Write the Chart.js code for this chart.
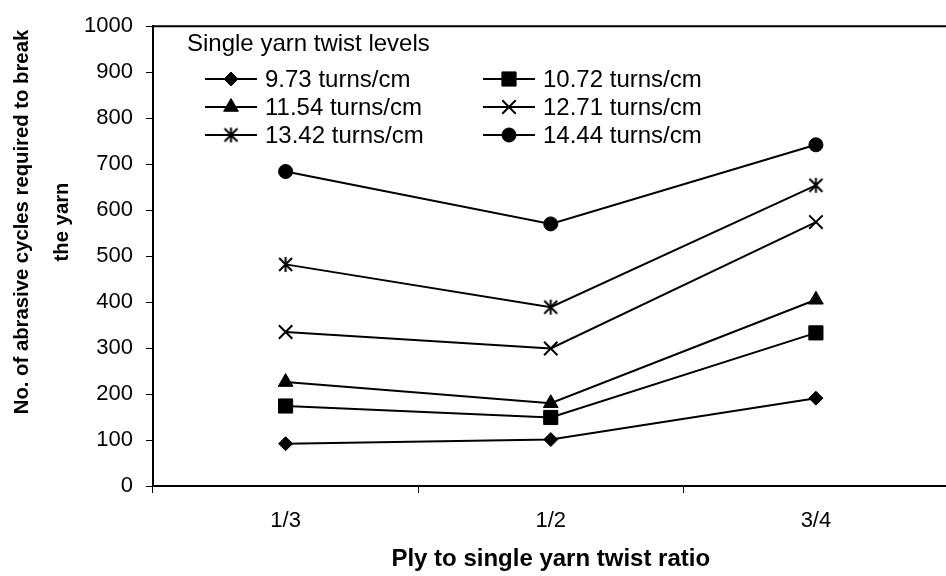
<!DOCTYPE html>
<html>
<head>
<meta charset="utf-8">
<script src="https://cdn.jsdelivr.net/npm/chart.js@4/dist/chart.umd.min.js"></script>
<style>
  html, body { margin: 0; padding: 0; background: #fff; overflow: hidden; }
  #wrap { position: absolute; left: 0; top: 0; width: 960px; height: 576px; }
</style>
</head>
<body>
<div id="wrap"><canvas id="abrasionChart" width="960" height="576"></canvas></div>
<script>
// ply to single yarn twist ratio
const ratios = ['1/3', '1/2', '3/4'];

// abrasive cycles to break the yarn, one array per single yarn twist level
const twist973 = [92, 101, 191];
const twist1072 = [174, 149, 333];
const twist1154 = [226, 180, 405];
const twist1271 = [335, 299, 574];
const twist1342 = [482, 389, 654];
const twist1444 = [684, 570, 742];

const seriesNames = ['9.73 turns/cm', '10.72 turns/cm', '11.54 turns/cm',
  '12.71 turns/cm', '13.42 turns/cm', '14.44 turns/cm'];

const yTicks = [0, 100, 200, 300, 400, 500, 600, 700, 800, 900, 1000];
const yTitle = ['No. of abrasive cycles required to break', 'the yarn'];

const FAMILY = '"Liberation Sans", Arial, sans-serif';

// Excel style asterisk marker (x plus a vertical bar)
function makeAsterisk() {
  const c = document.createElement('canvas');
  c.width = 17; c.height = 17;
  const g = c.getContext('2d');
  g.strokeStyle = '#000';
  g.lineWidth = 2;
  g.beginPath();
  g.moveTo(2, 2); g.lineTo(15, 15);
  g.moveTo(15, 2); g.lineTo(2, 15);
  g.moveTo(8.5, 1); g.lineTo(8.5, 16);
  g.stroke();
  return c;
}
const asterisk = makeAsterisk();

function series(i, values, style, radius, bw) {
  return {
    label: seriesNames[i],
    data: values,
    borderColor: '#000',
    borderWidth: 2,
    pointStyle: style,
    pointRadius: radius,
    pointHoverRadius: radius,
    pointBorderWidth: bw,
    pointBackgroundColor: '#000',
    pointBorderColor: '#000',
    tension: 0,
    fill: false
  };
}

const datasets = [
  series(0, twist973, 'rectRot', 7, 1),
  series(1, twist1072, 'rect', 10, 1),
  series(2, twist1154, 'triangle', 8.5, 1),
  series(3, twist1271, 'crossRot', 9.5, 2),
  series(4, twist1342, asterisk, 8, 2),
  series(5, twist1444, 'circle', 7, 1)
];

// top frame line of the plot area
const topFrame = {
  id: 'topFrame',
  afterDraw(chart) {
    const { ctx, chartArea } = chart;
    ctx.save();
    ctx.strokeStyle = '#000';
    ctx.lineWidth = 2;
    ctx.beginPath();
    ctx.moveTo(chartArea.left - 1, chartArea.top);
    ctx.lineTo(chartArea.right, chartArea.top);
    ctx.stroke();
    ctx.restore();
  }
};

// rotated two line y axis title, sits a bit above the plot middle like the original
const yAxisTitle = {
  id: 'yAxisTitle',
  afterDraw(chart) {
    const ctx = chart.ctx;
    ctx.save();
    ctx.fillStyle = '#000';
    ctx.font = 'bold 20.3px ' + FAMILY;
    ctx.textAlign = 'center';
    ctx.textBaseline = 'middle';
    ctx.translate(0, 222);
    ctx.rotate(-Math.PI / 2);
    ctx.fillText(yTitle[0], 0, 22);
    ctx.fillText(yTitle[1], 0, 62);
    ctx.restore();
  }
};

// legend inside the plot, two columns
const innerLegend = {
  id: 'innerLegend',
  afterDraw(chart) {
    const ctx = chart.ctx;
    ctx.save();
    ctx.fillStyle = '#000';
    ctx.strokeStyle = '#000';
    ctx.font = '24px ' + FAMILY;
    ctx.textBaseline = 'middle';
    ctx.textAlign = 'left';
    ctx.fillText('Single yarn twist levels', 187, 44);
    const cols = [205, 483];
    const rows = [79, 107, 135];
    chart.data.datasets.forEach((ds, i) => {
      const x0 = cols[i % 2];
      const y = rows[Math.floor(i / 2)];
      ctx.lineWidth = 2;
      ctx.beginPath();
      ctx.moveTo(x0, y);
      ctx.lineTo(x0 + 52, y);
      ctx.stroke();
      ctx.lineWidth = ds.pointBorderWidth;
      Chart.helpers.drawPoint(ctx, {
        pointStyle: ds.pointStyle,
        radius: ds.pointRadius,
        rotation: 0,
        borderWidth: ds.pointBorderWidth
      }, x0 + 26, y);
      ctx.fillText(ds.label, x0 + 60, y + 1);
    });
    ctx.restore();
  }
};

const ctx = document.getElementById('abrasionChart').getContext('2d');
const abrasionChart = new Chart(ctx, {
  type: 'line',
  data: { labels: ratios, datasets: datasets },
  options: {
    responsive: false,
    animation: false,
    layout: { padding: { left: 0, right: 3, top: 21, bottom: 0 } },
    plugins: {
      legend: { display: false },
      tooltip: { enabled: false }
    },
    scales: {
      x: {
        type: 'category',
        offset: true,
        grid: { offset: true, drawOnChartArea: false, color: '#000', tickLength: 7, lineWidth: 1 },
        border: { display: true, color: '#000', width: 2 },
        ticks: {
          color: '#000', padding: 15,
          font: { family: FAMILY, size: 22 }
        },
        title: {
          display: true,
          text: 'Ply to single yarn twist ratio',
          color: '#000',
          padding: { top: 0, bottom: 2 },
          font: { family: FAMILY, size: 24, weight: 'bold' }
        },
        afterFit(scale) { scale.height = 90; }
      },
      y: {
        min: 0,
        max: 1000,
        afterBuildTicks(scale) { scale.ticks = yTicks.map(v => ({ value: v })); },
        grid: { drawOnChartArea: false, color: '#000', tickLength: 7, lineWidth: 1 },
        border: { display: true, color: '#000', width: 2 },
        ticks: {
          color: '#000', padding: 13,
          font: { family: FAMILY, size: 22 },
          callback: (v) => String(v)
        },
        title: { display: false },
        afterFit(scale) { scale.width = 153; }
      }
    }
  },
  plugins: [topFrame, yAxisTitle, innerLegend]
});
</script>
</body>
</html>
